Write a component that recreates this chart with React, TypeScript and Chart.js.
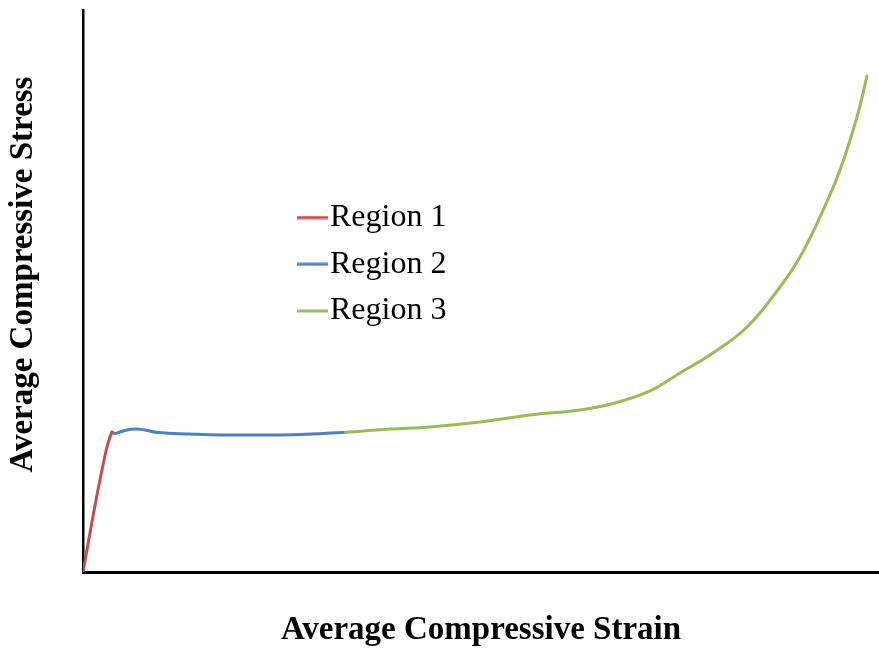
import React, { useEffect, useRef } from "react";
import { Chart, registerables } from "chart.js";

Chart.register(...registerables);

// Region 1 (elastic), Region 2 (plateau), Region 3 (densification)
const region1Strain = [0, 0.88, 1.76, 2.52, 3.02, 3.4, 3.65];
const region1Stress = [0, 6.94, 13.7, 19.04, 22.24, 24.02, 24.91];

const region2Strain = [3.65, 4.03, 4.66, 5.54, 6.55, 7.81, 9.45, 13.48, 17.25, 22.29, 27.33, 32.75];
const region2Stress = [24.91, 24.64, 24.91, 25.27, 25.44, 25.27, 24.82, 24.56, 24.38, 24.38, 24.47, 24.82];

const region3Strain = [32.75, 38.66, 43.7, 50.0, 56.3, 62.59, 67.0, 71.41, 75.19, 79.35, 83.63, 87.78, 90.3, 92.82, 95.34, 97.48, 98.74];
const region3Stress = [24.82, 25.44, 25.8, 26.69, 27.94, 28.83, 30.07, 32.21, 35.41, 38.97, 43.59, 50.71, 56.05, 63.17, 71.53, 80.96, 88.26];

const seriesNames = ["Region 1", "Region 2", "Region 3"];
const seriesColors = ["#c0504d", "#4f81bd", "#9bbb59"];
const xTitle = "Average Compressive Strain";
const yTitle = "Average Compressive Stress";

const toPoints = (xs: number[], ys: number[]) => xs.map((x, i) => ({ x, y: ys[i] }));

function makeSwatch(color: string): HTMLCanvasElement {
  const c = document.createElement("canvas");
  c.width = 45;
  c.height = 4;
  const ctx = c.getContext("2d")!;
  ctx.fillStyle = color;
  ctx.fillRect(14, 0.5, 31, 3);
  return c;
}

export default function App() {
  const ref = useRef<HTMLCanvasElement | null>(null);

  useEffect(() => {
    if (!ref.current) return;
    const swatches = seriesColors.map(makeSwatch);
    const serif = "'Liberation Serif', 'Times New Roman', serif";

    const legendMover = {
      id: "legendMover",
      afterLayout(chart: any) {
        const lg = chart.legend;
        if (!lg) return;
        lg.left = 282.3;
        lg.top = 186.8;
        lg.right = 600;
        lg.bottom = 654;
      },
    };

    const chart = new Chart(ref.current, {
      type: "line",
      data: {
        datasets: [
          { label: seriesNames[0], data: toPoints(region1Strain, region1Stress), borderColor: seriesColors[0], backgroundColor: seriesColors[0] },
          { label: seriesNames[1], data: toPoints(region2Strain, region2Stress), borderColor: seriesColors[1], backgroundColor: seriesColors[1] },
          { label: seriesNames[2], data: toPoints(region3Strain, region3Stress), borderColor: seriesColors[2], backgroundColor: seriesColors[2] },
        ],
      },
      options: {
        animation: false,
        responsive: false,
        devicePixelRatio: 1,
        elements: {
          line: { borderWidth: 3, tension: 0.4, borderCapStyle: "round", borderJoinStyle: "round" },
          point: { radius: 0, hoverRadius: 0 },
        },
        layout: { padding: { top: 10, left: 0, right: 0, bottom: 0 } },
        plugins: {
          tooltip: { enabled: false },
          legend: {
            display: true,
            position: "chartArea",
            align: "start",
            labels: {
              usePointStyle: true,
              pointStyleWidth: 17,
              padding: 14.7,
              color: "#000",
              font: { family: serif, size: 32, weight: "normal" },
              generateLabels: (c: any) =>
                Chart.defaults.plugins.legend.labels.generateLabels(c).map((l: any, i: number) => ({
                  ...l,
                  pointStyle: swatches[i],
                  fontColor: "#000",
                })),
            },
          },
        },
        scales: {
          x: {
            type: "linear",
            min: 0,
            max: 100.25,
            ticks: { display: false },
            grid: { display: false },
            border: { display: true, color: "#000", width: 3 },
            title: {
              display: true,
              text: xTitle,
              color: "#000",
              font: { family: serif, size: 33, weight: "bold" },
              padding: { top: 0, bottom: 3.3 },
            },
            afterFit: (s: any) => {
              s.height = 82;
            },
          },
          y: {
            type: "linear",
            min: 0,
            max: 100,
            ticks: { display: false },
            grid: { display: false },
            border: { display: true, color: "#000", width: 2.5 },
            title: {
              display: true,
              text: "    " + yTitle,
              color: "#000",
              font: { family: serif, size: 33, weight: "bold" },
              padding: { top: 4.1, bottom: 0 },
            },
            afterFit: (s: any) => {
              s.width = 83;
            },
          },
        },
      },
      plugins: [legendMover],
    } as any);

    return () => chart.destroy();
  }, []);

  return (
    <div style={{ position: "fixed", left: 0, top: 0, width: 879, height: 654, background: "#fff" }}>
      <canvas ref={ref} width={879} height={654} style={{ width: 879, height: 654, display: "block" }} />
    </div>
  );
}
